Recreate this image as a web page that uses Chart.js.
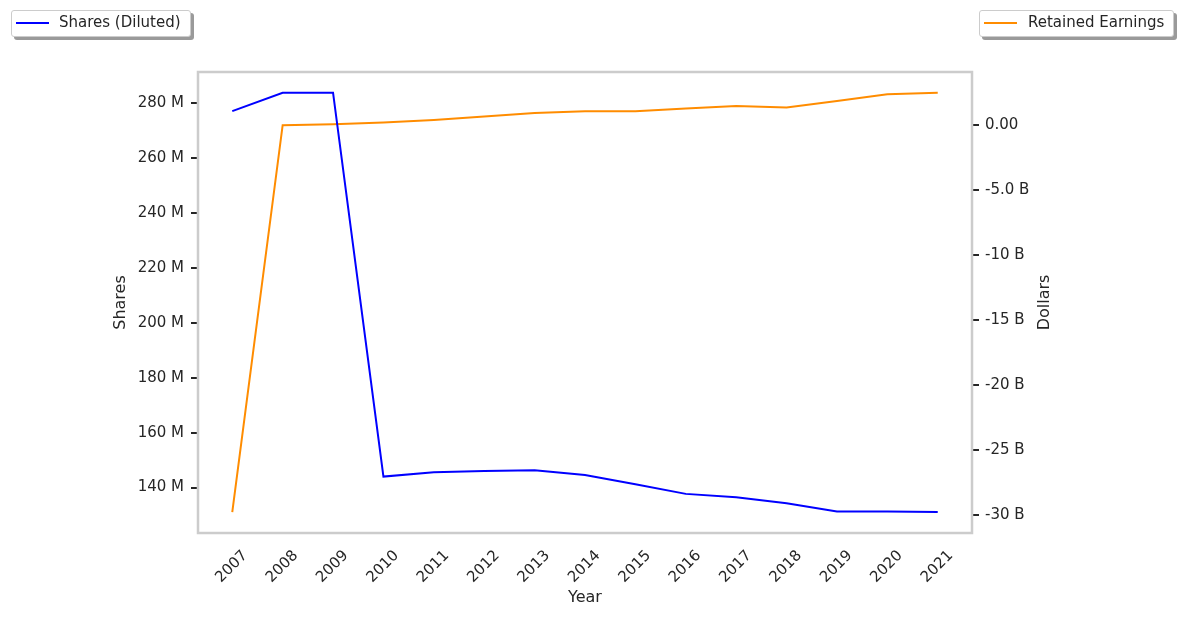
<!DOCTYPE html>
<html>
<head>
<meta charset="utf-8">
<script src="https://cdn.jsdelivr.net/npm/chart.js@4/dist/chart.umd.min.js"></script>
<style>
  html, body { margin: 0; padding: 0; background: #fff; }
  #wrap { position: relative; width: 1183px; height: 618px; }
  .legend {
    position: absolute; box-sizing: border-box; height: 27px;
    background: #fff; border: 1px solid #cccccc; border-radius: 3px;
    box-shadow: 3px 3px 0 #9a9a9a;
    font-family: "DejaVu Sans", sans-serif; font-size: 15px; color: #262626;
    white-space: nowrap;
  }
  .legend .sw { position: absolute; top: 11px; width: 33px; height: 2px; }
  .legend .tx { position: absolute; top: 2px; }
</style>
</head>
<body>
<div id="wrap">
  <canvas id="c" width="1183" height="618"></canvas>
  <div class="legend" style="left:11px; top:10px; width:180px;">
    <div class="sw" style="left:4px; background:#0000ff;"></div>
    <div class="tx" style="left:47px;">Shares (Diluted)</div>
  </div>
  <div class="legend" style="left:979px; top:10px; width:195px;">
    <div class="sw" style="left:4px; background:#ff8c00;"></div>
    <div class="tx" style="left:48px;">Retained Earnings</div>
  </div>
</div>
<script>
const years = [2007, 2008, 2009, 2010, 2011, 2012, 2013, 2014, 2015, 2016, 2017, 2018, 2019, 2020, 2021];
const sharesDiluted = [277.1, 283.8, 283.8, 144.0, 145.6, 146.0, 146.3, 144.6, 141.2, 137.7, 136.5, 134.3, 131.3, 131.3, 131.1]; // millions
const retainedEarnings = [-29.8, 0.0, 0.07, 0.21, 0.41, 0.67, 0.95, 1.07, 1.08, 1.28, 1.49, 1.36, 1.87, 2.38, 2.51]; // billions
const shareTickValues = [140, 160, 180, 200, 220, 240, 260, 280];
const shareTickLabels = ['140 M', '160 M', '180 M', '200 M', '220 M', '240 M', '260 M', '280 M'];
const dollarTickValues = [-30, -25, -20, -15, -10, -5, 0];
const dollarTickLabels = ['-30 B', '-25 B', '-20 B', '-15 B', '-10 B', '-5.0 B', '0.00'];

const TXT = '#262626';
const FONT = 'DejaVu Sans';

const framePlugin = {
  id: 'frame',
  afterDatasetsDraw(chart) {
    const { ctx, chartArea: a } = chart;
    ctx.save();
    ctx.strokeStyle = '#cccccc';
    ctx.lineWidth = 2.5;
    ctx.strokeRect(a.left, a.top, a.right - a.left, a.bottom - a.top);
    ctx.fillStyle = TXT;
    ctx.font = '16px "' + FONT + '"';
    ctx.textAlign = 'center';
    ctx.textBaseline = 'middle';
    const cy = (a.top + a.bottom) / 2;
    ctx.save(); ctx.translate(121, cy); ctx.rotate(-Math.PI / 2); ctx.fillText('Shares', 0, 0); ctx.restore();
    ctx.save(); ctx.translate(1045, cy); ctx.rotate(-Math.PI / 2); ctx.fillText('Dollars', 0, 0); ctx.restore();
    ctx.fillText('Year', (a.left + a.right) / 2, 598);
    ctx.restore();
  }
};

new Chart(document.getElementById('c'), {
  type: 'line',
  data: {
    datasets: [
      {
        label: 'Shares (Diluted)',
        data: years.map((y, i) => ({ x: y, y: sharesDiluted[i] })),
        borderColor: '#0000ff', borderWidth: 2, pointRadius: 0, tension: 0, yAxisID: 'y'
      },
      {
        label: 'Retained Earnings',
        data: years.map((y, i) => ({ x: y, y: retainedEarnings[i] })),
        borderColor: '#ff8c00', borderWidth: 2, pointRadius: 0, tension: 0, yAxisID: 'y1'
      }
    ]
  },
  options: {
    responsive: false,
    animation: false,
    devicePixelRatio: 1,
    layout: { padding: { top: 72, left: 0, right: 0, bottom: 0 } },
    plugins: { legend: { display: false }, tooltip: { enabled: false } },
    scales: {
      x: {
        type: 'linear', min: 2006.32, max: 2021.68,
        afterBuildTicks: s => { s.ticks = years.map(v => ({ value: v })); },
        afterFit: s => { s.height = 85; },
        grid: { display: false }, border: { display: false },
        ticks: {
          autoSkip: false, minRotation: 45, maxRotation: 45, padding: 6, labelOffset: 13,
          color: TXT, font: { family: FONT, size: 15 },
          callback: v => String(v)
        }
      },
      y: {
        position: 'left', min: 123.45, max: 291.35,
        afterBuildTicks: s => { s.ticks = shareTickValues.map(v => ({ value: v })); },
        afterFit: s => { s.width = 198; },
        grid: { display: true, drawOnChartArea: false, drawTicks: true, tickLength: 7, color: TXT, lineWidth: 2 },
        border: { display: false },
        ticks: {
          padding: 7, color: TXT, font: { family: FONT, size: 15 },
          callback: v => shareTickLabels[shareTickValues.indexOf(v)]
        }
      },
      y1: {
        position: 'right', min: -31.41, max: 4.1,
        afterBuildTicks: s => { s.ticks = dollarTickValues.map(v => ({ value: v })); },
        afterFit: s => { s.width = 211; },
        grid: { display: true, drawOnChartArea: false, drawTicks: true, tickLength: 7, color: TXT, lineWidth: 2 },
        border: { display: false },
        ticks: {
          padding: 6, color: TXT, font: { family: FONT, size: 15 },
          callback: v => dollarTickLabels[dollarTickValues.indexOf(v)]
        }
      }
    }
  },
  plugins: [framePlugin]
});
</script>
</body>
</html>
